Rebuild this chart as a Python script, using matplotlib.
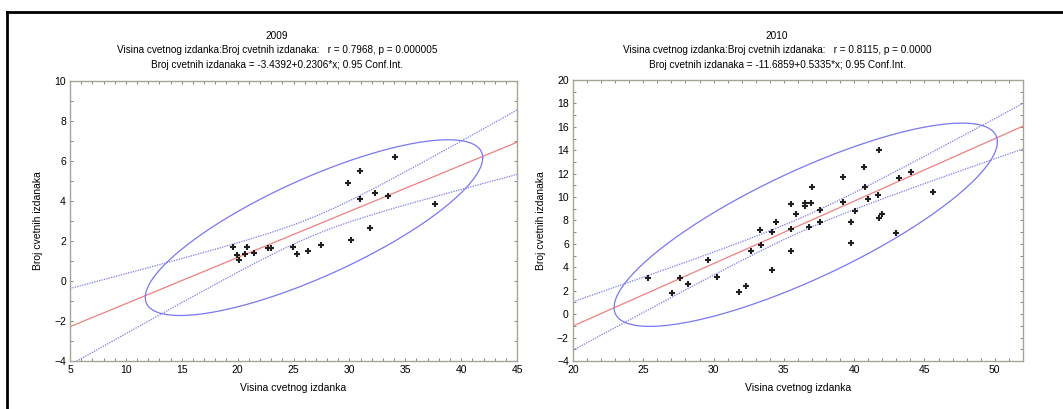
import numpy as np
import matplotlib
matplotlib.use("Agg")
import matplotlib.pyplot as plt
from matplotlib.lines import Line2D
from matplotlib.ticker import MultipleLocator

plt.rcParams['font.family'] = ['Liberation Sans', 'DejaVu Sans']

# 2009 data (Visina cvetnog izdanka, Broj cvetnih izdanaka)
x_2009 = [19.6, 19.97, 20.1, 20.86, 20.65, 21.46, 22.68, 22.98, 24.92, 25.33, 26.32,
          27.42, 29.84, 30.91, 30.94, 30.13, 32.31, 31.8, 33.41, 34.07, 37.67]
y_2009 = [1.72, 1.32, 1.03, 1.70, 1.37, 1.38, 1.63, 1.63, 1.70, 1.37, 1.50,
          1.78, 4.88, 5.52, 4.10, 2.05, 4.38, 2.63, 4.25, 6.20, 3.87]

# 2010 data
x_2010 = [25.33, 27.01, 27.6, 28.2, 29.57, 30.23, 31.78, 32.3, 32.67, 33.29, 33.36,
          34.12, 34.17, 34.43, 35.54, 35.54, 35.54, 35.87, 36.47, 36.47, 36.9,
          36.97, 36.77, 37.56, 37.56, 39.17, 39.21, 39.74, 39.74, 40.09, 40.73,
          40.78, 40.95, 41.66, 41.75, 41.75, 41.98, 43.0, 43.17, 44.07, 45.64]
y_2010 = [3.09, 1.78, 3.09, 2.61, 4.6, 3.2, 1.9, 2.38, 5.37, 7.19, 5.88,
          7.0, 3.78, 7.87, 9.44, 7.28, 5.37, 8.54, 9.25, 9.52, 9.52,
          10.83, 7.45, 8.9, 7.85, 9.61, 11.72, 7.85, 6.11, 8.84, 12.54,
          10.83, 9.84, 10.21, 14.05, 8.22, 8.54, 6.96, 11.6, 12.12, 10.44]

# fitted coefficients as reported in the titles
coef_2009 = (-3.4392, 0.2306)
coef_2010 = (-11.6859, 0.5335)
r_2009, p_2009 = "0.7968", "0.000005"
r_2010, p_2010 = "0.8115", "0.0000"

# t critical values (0.975) and ellipse size factor
t_2009, t_2010 = 2.093, 2.023
ellipse_k = 2.74

fig = plt.figure(figsize=(10.63, 4.09), dpi=100)

spine_col = '#a8a494'
red = '#f08080'
blue = '#7878f0'


def panel(rect, xs, ys, coef, tval, xlim, ylim):
    xs = np.array(xs)
    ys = np.array(ys)
    n = len(xs)
    ax = fig.add_axes(rect)
    ax.set_xlim(*xlim)
    ax.set_ylim(*ylim)

    # regression line and 95% confidence band
    xx = np.linspace(xlim[0], xlim[1], 200)
    yy = coef[0] + coef[1] * xx
    fit = np.polyval(np.polyfit(xs, ys, 1), xs)
    s = np.sqrt(np.sum((ys - fit) ** 2) / (n - 2))
    sxx = np.sum((xs - xs.mean()) ** 2)
    half = tval * s * np.sqrt(1.0 / n + (xx - xs.mean()) ** 2 / sxx)
    ax.plot(xx, yy, color=red, lw=0.9)
    ax.plot(xx, yy + half, color=blue, lw=0.9, ls=(0, (1, 1)))
    ax.plot(xx, yy - half, color=blue, lw=0.9, ls=(0, (1, 1)))

    # prediction ellipse
    L = np.linalg.cholesky(np.cov(xs, ys))
    t = np.linspace(0, 2 * np.pi, 300)
    pts = L @ np.vstack([np.cos(t), np.sin(t)]) * ellipse_k
    ax.plot(xs.mean() + pts[0], ys.mean() + pts[1], color=blue, lw=0.9)

    ax.plot(xs, ys, ls='none', marker='+', ms=5, mew=1.5, color='#202020')

    ax.xaxis.set_major_locator(MultipleLocator(5))
    ax.xaxis.set_minor_locator(MultipleLocator(1))
    ax.yaxis.set_major_locator(MultipleLocator(2))
    ax.yaxis.set_minor_locator(MultipleLocator(1))
    ax.tick_params(which='both', direction='in', top=True, right=True,
                   length=2, width=0.6, color='#707070', labelsize=7.5, pad=3)
    for sp in ax.spines.values():
        sp.set_color(spine_col)
        sp.set_linewidth(1.0)
    ax.set_xlabel("Visina cvetnog izdanka", fontsize=7.5, labelpad=6)
    ax.set_ylabel("Broj cvetnih izdanaka", fontsize=7.5, labelpad=8)
    return ax


panel([0.0659, 0.1174, 0.4205, 0.6846], x_2009, y_2009, coef_2009, t_2009, (5, 45), (-4, 10))
panel([0.539, 0.1174, 0.4233, 0.687], x_2010, y_2010, coef_2010, t_2010, (20, 52), (-4, 20))

for cx, year, r, p, coef in [(277 / 1063, "2009", r_2009, p_2009, coef_2009),
                             (777 / 1063, "2010", r_2010, p_2010, coef_2010)]:
    fig.text(cx, 1 - 36 / 409, year, ha='center', va='center', fontsize=7.2)
    fig.text(cx, 1 - 50 / 409,
             "Visina cvetnog izdanka:Broj cvetnih izdanaka:   r = %s, p = %s" % (r, p),
             ha='center', va='center', fontsize=7.2)
    fig.text(cx, 1 - 65 / 409,
             "Broj cvetnih izdanaka = %.4f+%.4f*x; 0.95 Conf.Int." % coef,
             ha='center', va='center', fontsize=7.2)

# outer frame
fig.add_artist(Line2D([7 / 1063, 1.0], [1 - 12 / 409, 1 - 12 / 409], color='black', lw=2))
fig.add_artist(Line2D([7 / 1063, 7 / 1063], [0, 1 - 12 / 409], color='black', lw=2))

fig.savefig("out.png", dpi=100)
